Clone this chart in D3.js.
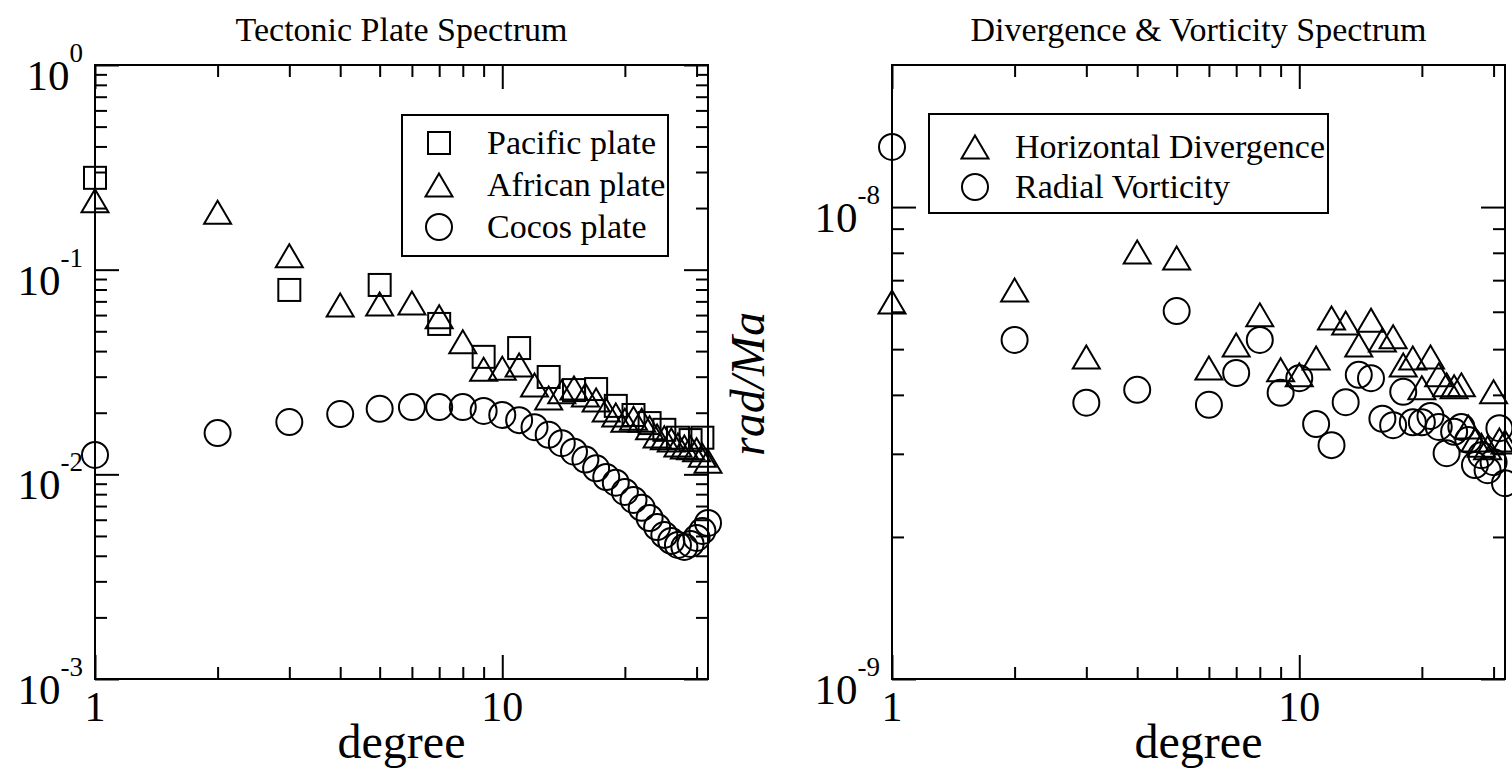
<!DOCTYPE html>
<html>
<head>
<meta charset="utf-8">
<script src="https://cdn.jsdelivr.net/npm/d3@7"></script>
<style>
  body { margin: 0; background: #fff; }
  text { font-family: "Liberation Serif", "Times New Roman", serif; fill: #000; }
</style>
</head>
<body>
<div id="chart"></div>
<script>
// degrees (spherical harmonic order)
const degrees = d3.range(1, 33);
const pacificDegrees = d3.range(1, 32, 2);

// Tectonic plate spectrum
const pacific = [0.281, 0.0796, 0.0842, 0.0543, 0.0375, 0.0414, 0.0299, 0.0258,
  0.0261, 0.0216, 0.0195, 0.0178, 0.0165, 0.0151, 0.0147, 0.0151];
const african = [0.217, 0.191, 0.117, 0.0672, 0.068, 0.0687, 0.0589, 0.0445,
  0.0326, 0.033, 0.0342, 0.0273, 0.0236, 0.0253, 0.0264, 0.0244,
  0.0231, 0.0206, 0.0195, 0.0184, 0.0188, 0.0184, 0.0169, 0.0154,
  0.0151, 0.0147, 0.0139, 0.0136, 0.0135, 0.0132, 0.0124, 0.0116];
const cocos = [0.01244, 0.0159, 0.018, 0.0197, 0.0209, 0.0213, 0.0213, 0.0213,
  0.0204, 0.0195, 0.0184, 0.017, 0.0156, 0.0142, 0.0129, 0.0118,
  0.0107, 0.0097, 0.0091, 0.0082, 0.0075, 0.00686, 0.00612, 0.00553,
  0.00506, 0.00473, 0.00452, 0.00442, 0.00457, 0.00489, 0.00529, 0.00579];

// Divergence & vorticity spectrum (rad/Ma)
const horizDiv = [6.29e-9, 6.67e-9, 4.81e-9, 8.03e-9, 7.8e-9, 4.56e-9, 5.1e-9, 5.91e-9,
  4.52e-9, 4.41e-9, 4.79e-9, 5.82e-9, 5.68e-9, 5.1e-9, 5.76e-9, 5.23e-9,
  5.31e-9, 4.63e-9, 4.79e-9, 4.14e-9, 4.81e-9, 4.41e-9, 4.2e-9, 4.16e-9,
  4.2e-9, 3.42e-9, 3.21e-9, 3.13e-9, 3.09e-9, 4.06e-9, 3.21e-9, 3.18e-9];
const radialVort = [1.341e-8, 5.23e-9, 3.85e-9, 4.1e-9, 6.02e-9, 3.81e-9, 4.45e-9, 5.23e-9,
  4.04e-9, 4.34e-9, 3.47e-9, 3.13e-9, 3.86e-9, 4.41e-9, 4.34e-9, 3.56e-9,
  3.45e-9, 4.06e-9, 3.5e-9, 3.5e-9, 3.61e-9, 3.42e-9, 3.01e-9, 3.34e-9,
  3.42e-9, 3.21e-9, 2.84e-9, 2.98e-9, 2.77e-9, 2.88e-9, 3.4e-9, 2.6e-9];

const xMajor = [1, 10];
const xMinor = [2, 3, 4, 5, 6, 7, 8, 9, 20, 30];
const xLabels = ["1", "10"];

const width = 1512, height = 774;
const svg = d3.select("#chart").append("svg")
  .attr("width", width).attr("height", height);
svg.append("rect").attr("width", width).attr("height", height).attr("fill", "#fff");

const symbols = {
  square: (g) => g.append("rect").attr("x", -11).attr("y", -11).attr("width", 22).attr("height", 22),
  triangle: (g) => g.append("path").attr("d", "M0,-11.5L13.5,11.5L-13.5,11.5Z"),
  circle: (g) => g.append("circle").attr("r", 13),
};

const drawPanel = (opt) => {
  const { left, top, w, h } = opt;
  const g = svg.append("g");
  const x = d3.scaleLog().domain([1, 32]).range([left, left + w]);
  const y = d3.scaleLog().domain(opt.yDomain).range([top + h, top]);

  // ticks on all four sides, pointing inward
  const tick = (axis, values, size, tx, ty) =>
    g.append("g").attr("transform", `translate(${tx},${ty})`)
      .call(axis.tickValues(values).tickSize(-size).tickFormat(""))
      .call((s) => s.select(".domain").remove())
      .call((s) => s.selectAll("line").attr("stroke", "#000").attr("stroke-width", 2));
  tick(d3.axisBottom(x), xMinor, 12, 0, top + h);
  tick(d3.axisBottom(x), xMajor, 24, 0, top + h);
  tick(d3.axisTop(x), xMinor, 12, 0, top);
  tick(d3.axisTop(x), xMajor, 24, 0, top);
  tick(d3.axisLeft(y), opt.yMinor, 12, left, 0);
  tick(d3.axisLeft(y), opt.yMajor, 24, left, 0);
  tick(d3.axisRight(y), opt.yMinor, 12, left + w, 0);
  tick(d3.axisRight(y), opt.yMajor, 24, left + w, 0);

  g.append("rect").attr("x", left).attr("y", top).attr("width", w).attr("height", h)
    .attr("fill", "none").attr("stroke", "#000").attr("stroke-width", 2);

  // x tick labels
  g.selectAll(".xl").data(xMajor).join("text")
    .attr("x", (d) => x(d)).attr("y", top + h + 42)
    .attr("text-anchor", "middle").attr("font-size", 42)
    .text((d, i) => xLabels[i]);

  // y tick labels: 10 with superscript exponent
  opt.yMajor.forEach((v) => {
    const t = g.append("text").attr("x", left - 12).attr("y", y(v) + 25)
      .attr("text-anchor", "end").attr("font-size", 43);
    t.append("tspan").text("10");
    t.append("tspan").attr("font-size", 27).attr("dy", -28)
      .text(String(Math.round(Math.log10(v))));
  });

  g.append("text").attr("x", left + w / 2).attr("y", 41)
    .attr("text-anchor", "middle").attr("font-size", 34).text(opt.title);
  g.append("text").attr("x", left + w / 2).attr("y", 758)
    .attr("text-anchor", "middle").attr("font-size", 48).text("degree");
  if (opt.yTitle) {
    g.append("text").attr("transform", `translate(${left - 128},${top + h / 2 + 12}) rotate(-90)`)
      .attr("text-anchor", "middle").attr("font-size", 48).attr("font-style", "italic")
      .text(opt.yTitle);
  }

  // markers
  opt.series.forEach((s) => {
    g.append("g").selectAll("g").data(s.values).join("g")
      .attr("transform", (d, i) => `translate(${x(s.degrees[i])},${y(d)})`)
      .attr("fill", "none").attr("stroke", "#000").attr("stroke-width", 2)
      .each(function () { symbols[s.symbol](d3.select(this)); });
  });

  // legend
  const lg = opt.legend;
  g.append("rect").attr("x", lg.x).attr("y", lg.y).attr("width", lg.w).attr("height", lg.h)
    .attr("fill", "#fff").attr("stroke", "#000").attr("stroke-width", 2);
  opt.series.forEach((s, i) => {
    const cy = lg.y + lg.first + i * lg.step;
    const m = g.append("g").attr("transform", `translate(${lg.x + lg.sym},${cy})`)
      .attr("fill", "none").attr("stroke", "#000").attr("stroke-width", 2);
    symbols[s.symbol](m);
    g.append("text").attr("x", lg.x + lg.text).attr("y", cy + 11)
      .attr("font-size", 34).text(s.name);
  });
};

drawPanel({
  left: 95, top: 65, w: 613, h: 614,
  title: "Tectonic Plate Spectrum",
  yDomain: [1e-3, 1],
  yMajor: [1, 1e-1, 1e-2, 1e-3],
  yMinor: [1e-1, 1e-2, 1e-3].flatMap((p) => d3.range(2, 10).map((k) => k * p)),
  series: [
    { name: "Pacific plate", symbol: "square", degrees: pacificDegrees, values: pacific },
    { name: "African plate", symbol: "triangle", degrees: degrees, values: african },
    { name: "Cocos plate", symbol: "circle", degrees: degrees, values: cocos },
  ],
  legend: { x: 402, y: 115, w: 266, h: 141, first: 28, step: 42, sym: 37, text: 85 },
});

drawPanel({
  left: 892, top: 65, w: 613, h: 614,
  title: "Divergence & Vorticity Spectrum",
  yTitle: "rad/Ma",
  yDomain: [1e-9, 2e-8],
  yMajor: [1e-8, 1e-9],
  yMinor: d3.range(2, 10).map((k) => k * 1e-9),
  series: [
    { name: "Horizontal Divergence", symbol: "triangle", degrees: degrees, values: horizDiv },
    { name: "Radial Vorticity", symbol: "circle", degrees: degrees, values: radialVort },
  ],
  legend: { x: 929, y: 114, w: 399, h: 99, first: 33, step: 40, sym: 46, text: 86 },
});
</script>
</body>
</html>
